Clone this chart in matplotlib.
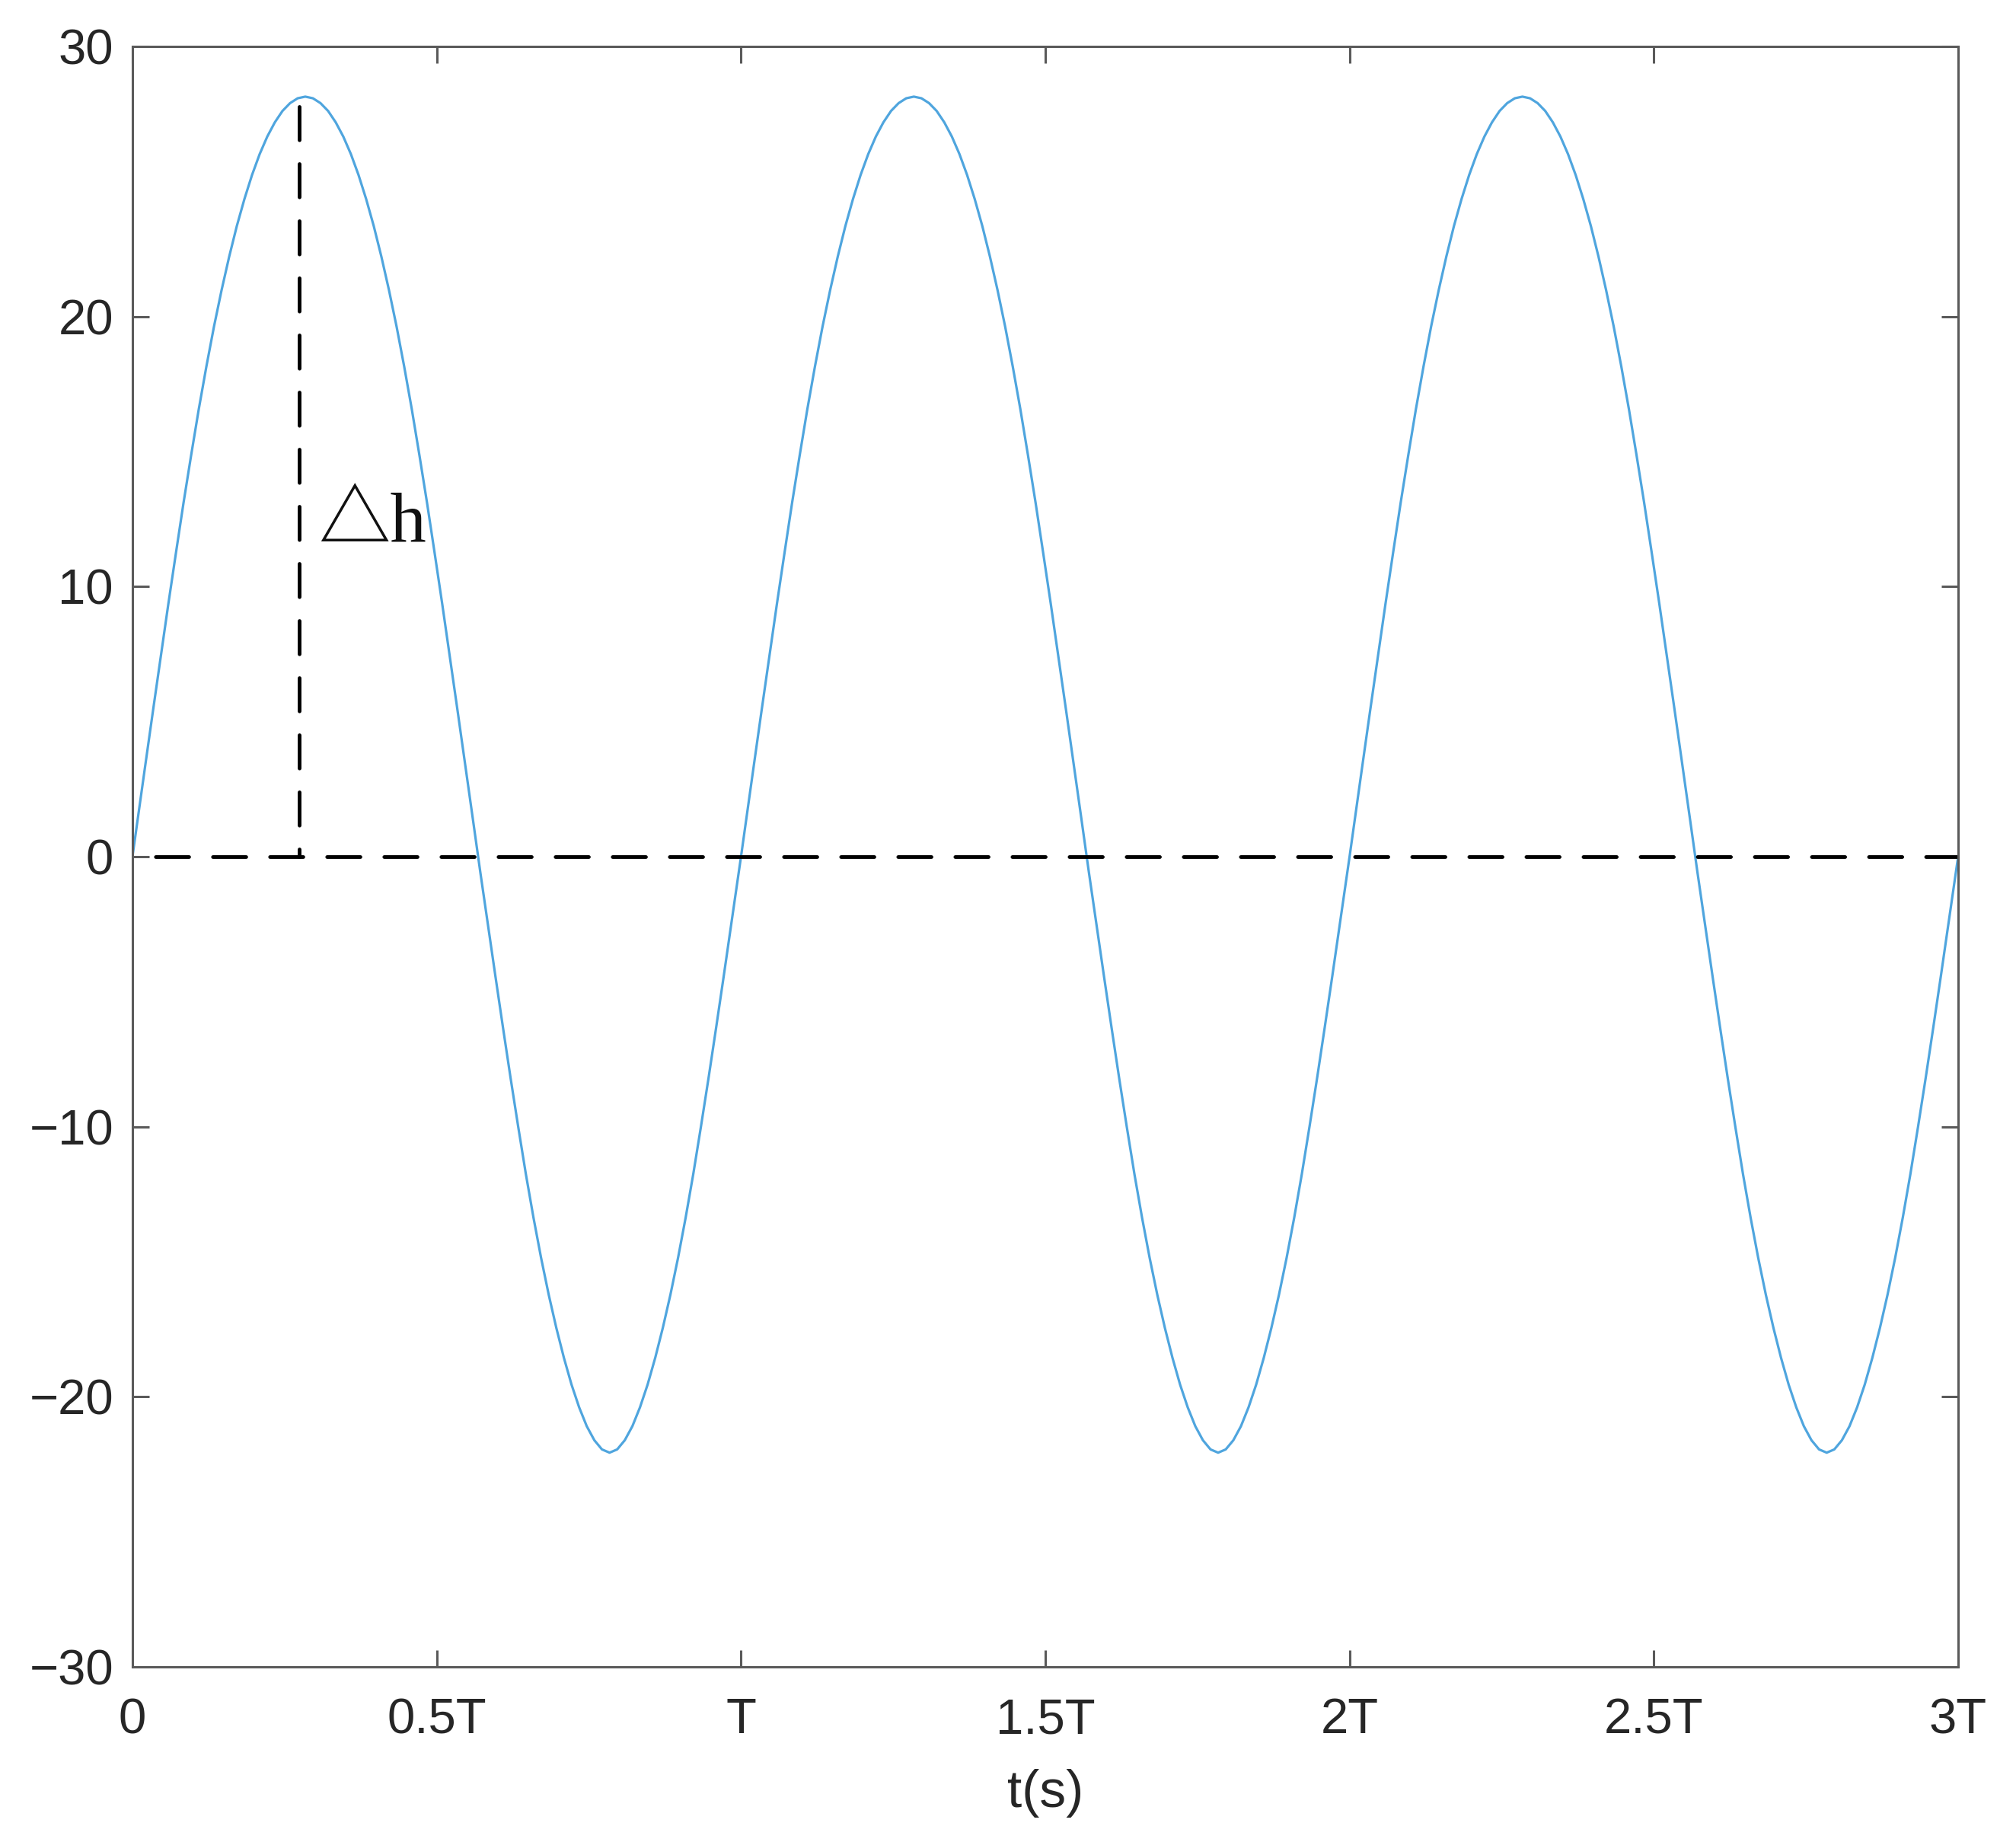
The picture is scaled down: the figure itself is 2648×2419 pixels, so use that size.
import numpy as np
import matplotlib.pyplot as plt

plt.rcParams['font.family'] = ['Liberation Sans', 'DejaVu Sans']

# one period of the wave (t in units of T)
t_cycle = [0.000, 0.009, 0.0215, 0.034, 0.0465, 0.059, 0.0715, 0.084, 0.0965, 0.109,
           0.1215, 0.134, 0.1465, 0.159, 0.1715, 0.184, 0.1965, 0.209, 0.2215, 0.234,
           0.2465, 0.259, 0.2715, 0.284, 0.2965, 0.309, 0.3215, 0.334, 0.3465, 0.359,
           0.3715, 0.384, 0.3965, 0.409, 0.4215, 0.434, 0.4465, 0.459, 0.4715, 0.484,
           0.4965, 0.509, 0.5215, 0.534, 0.5465, 0.559, 0.568,
           0.5715, 0.584, 0.5965, 0.609, 0.6215, 0.634, 0.6465, 0.659, 0.6715, 0.684,
           0.6965, 0.709, 0.7215, 0.734, 0.7465, 0.759, 0.7715, 0.784, 0.7965, 0.809,
           0.8215, 0.834, 0.8465, 0.859, 0.8715, 0.884, 0.8965, 0.909, 0.9215, 0.934,
           0.9465, 0.959, 0.9715, 0.984, 0.9965]
h_cycle = [0.00, 1.45, 3.45, 5.44, 7.40, 9.36, 11.25, 13.11, 14.87, 16.57,
           18.15, 19.63, 20.98, 22.22, 23.35, 24.35, 25.24, 26.01, 26.66, 27.19,
           27.61, 27.90, 28.08, 28.14, 28.08, 27.90, 27.61, 27.19, 26.66, 26.01,
           25.24, 24.35, 23.35, 22.22, 20.98, 19.63, 18.15, 16.57, 14.87, 13.11,
           11.25, 9.36, 7.40, 5.44, 3.45, 1.45, 0.00,
           -0.56, -2.50, -4.44, -6.35, -8.22, -10.02, -11.76, -13.37, -14.86, -16.22,
           -17.45, -18.56, -19.55, -20.39, -21.09, -21.61, -21.95, -22.07, -21.95, -21.61,
           -21.09, -20.39, -19.55, -18.56, -17.45, -16.22, -14.86, -13.37, -11.76, -10.02,
           -8.22, -6.35, -4.44, -2.50, -0.56]
n_cycles = 3
t_end, h_end = 3.0, 0.0

# dashed marker for the height difference
mark_t = 0.274
mark_top = 27.77

x_ticks = [0, 0.5, 1, 1.5, 2, 2.5, 3]
x_labels = ['0', '0.5T', 'T', '1.5T', '2T', '2.5T', '3T']
y_ticks = [-30, -20, -10, 0, 10, 20, 30]

t = np.concatenate([np.array(t_cycle) + k for k in range(n_cycles)] + [[t_end]])
h = np.concatenate([np.array(h_cycle)] * n_cycles + [[h_end]])

fig = plt.figure(figsize=(26.48, 24.19), dpi=100)
ax = fig.add_axes([0.0657, 0.0951, 0.9056, 0.8797])

ax.plot(t, h, color='#4fa5de', lw=2.3)

dash_lw = 3.5
ax.plot([0, 3], [0, 0], color='k', lw=dash_lw,
        linestyle=(9.2, (8.97, 6.46)), dash_capstyle='round')
ax.plot([mark_t, mark_t], [mark_top, 0], color='k', lw=dash_lw,
        linestyle=(0, (8.97, 6.46)), dash_capstyle='round')

ax.text(0.305, 11.62, '\u25b3h', fontsize=68, color='#111111',
        family=['Liberation Serif', 'Noto Sans CJK SC'], va='baseline')

ax.set_xlim(0, 3)
ax.set_ylim(-30, 30)
ax.set_xticks(x_ticks)
ax.set_xticklabels(x_labels)
ax.set_yticks(y_ticks)

for s in ax.spines.values():
    s.set_color('#5a5a5a')
    s.set_linewidth(2.2)
ax.tick_params(direction='in', length=16, width=2.2, color='#5a5a5a',
               top=True, right=True, labelsize=47, labelcolor='#262626')
ax.tick_params(axis='x', pad=29)
ax.tick_params(axis='y', pad=18)
ax.set_xlabel('t(s)', fontsize=50, color='#262626', labelpad=24)

fig.savefig('out.png', dpi=100)
